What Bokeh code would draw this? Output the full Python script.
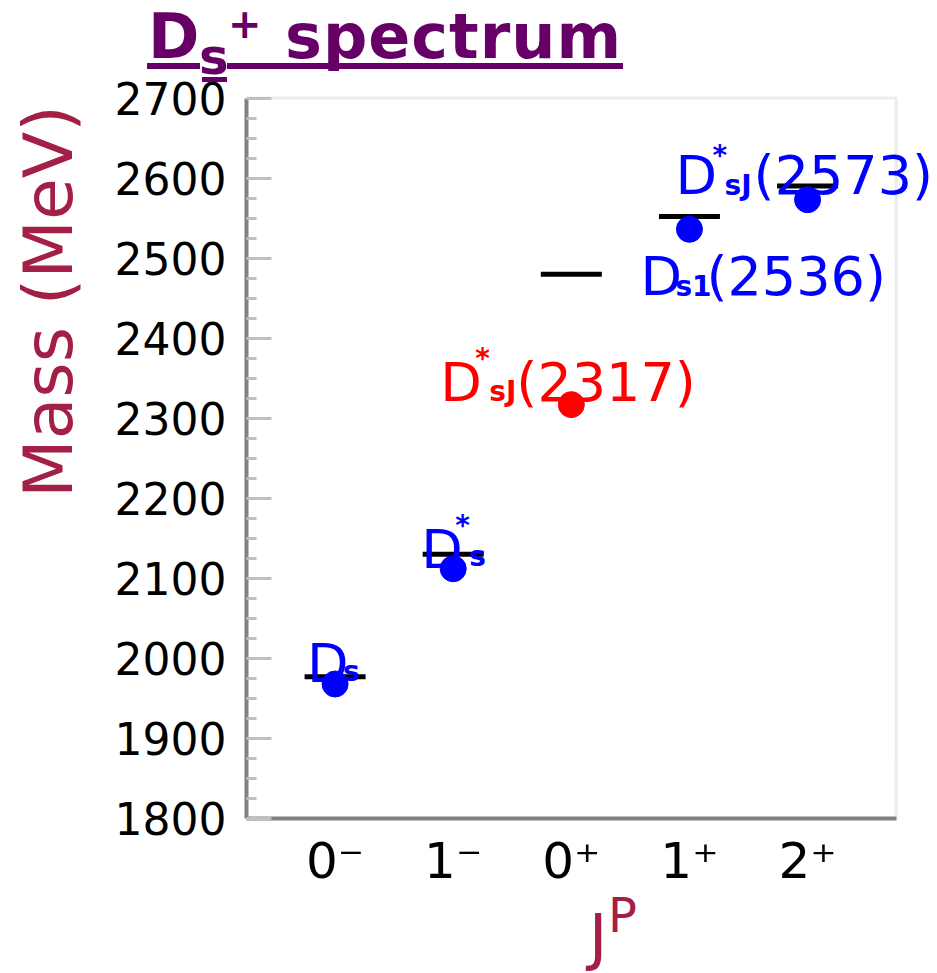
from bokeh.plotting import figure
from bokeh.models import Label, BoxAnnotation, Range1d, FixedTicker, Div
from bokeh.layouts import column
from bokeh.embed import file_html
from bokeh.resources import INLINE

# ---------------- data ----------------
jp_labels = ["0⁻", "1⁻", "0⁺", "1⁺", "2⁺"]
jp_index = [0, 1, 2, 3, 4]
theory_mass = [1977, 2130, 2480, 2552, 2590]          # black dashes (model)
exp_mass = [1968, 2112, 2317, 2536, 2573]             # measured states (dots)
exp_color = ["#0000ff", "#0000ff", "#ff0000", "#0000ff", "#0000ff"]
state_main = ["D", "D", "D", "D", "D"]
state_star = ["", "*", "*", "", "*"]
state_sub = ["s", "s", "sJ", "s1", "sJ"]
state_tail = ["", "", "(2317)", "(2536)", "(2573)"]
y_major = [1800, 1900, 2000, 2100, 2200, 2300, 2400, 2500, 2600, 2700]
y_minor = [v for v in range(1800, 2701, 25) if v % 100 != 0]
title_parts = ["D", "s", "+", "spectrum"]
y_title = "Mass (MeV)"
x_title_parts = ["J", "P"]

# ---------------- styles ----------------
FONT = "DejaVu Sans"
PURPLE = "#660066"
MAROON = "#a31f45"
X_LO, X_HI = -0.75, 4.75          # drawn box limits (category units)
Y_LO, Y_HI = 1800, 2700
X_VIEW_END = 5.10                 # room on the right for the (2573) label
Y_VIEW_END = 2709.4               # room so the top border is not clipped

LAYOUT = [
    dict(main=(-28, 21), star=None, sub=(8, 13), tail=None),
    dict(main=(-32, 19), star=(2, 43), sub=(16, 12), tail=None),
    dict(main=(-131, 22), star=(-96, 46), sub=(-82, 13), tail=(-55, 22)),
    dict(main=(-49, -47), star=None, sub=(-14, -57), tail=(17, -47)),
    dict(main=(-132, 24), star=(-95, 44), sub=(-83, 14), tail=(-54, 24)),
]

p = figure(width=937, height=973,
           x_range=Range1d(X_LO, X_VIEW_END), y_range=Range1d(Y_LO, Y_VIEW_END),
           output_backend="svg", toolbar_location=None,
           min_border_left=246, min_border_right=0,
           min_border_top=90, min_border_bottom=155)
p.xgrid.visible = False
p.ygrid.visible = False
p.background_fill_color = "white"
p.border_fill_color = "white"
p.outline_line_color = None

# plot box (top and right edges visible; left/bottom covered by the axes)
p.add_layout(BoxAnnotation(left=X_LO, right=X_HI, bottom=Y_LO, top=Y_HI,
                           fill_alpha=0, line_color="#c0c0c0", line_width=3,
                           level="underlay"))

# y axis
ya = p.yaxis[0]
ya.bounds = (Y_LO, Y_HI)
ya.ticker = FixedTicker(ticks=y_major, minor_ticks=y_minor)
ya.axis_line_color = "#808080"
ya.axis_line_width = 4
ya.major_tick_in = 25
ya.major_tick_out = 0
ya.minor_tick_in = 10
ya.minor_tick_out = 0
ya.major_tick_line_color = "#c0c0c0"
ya.minor_tick_line_color = "#c0c0c0"
ya.major_tick_line_width = 3
ya.minor_tick_line_width = 3
ya.major_label_text_font = FONT
ya.major_label_text_font_size = "44px"
ya.major_label_text_color = "black"
ya.major_label_standoff = 20

# x axis
xa = p.xaxis[0]
xa.bounds = (X_LO, X_HI)
xa.ticker = FixedTicker(ticks=jp_index, minor_ticks=[])
xa.major_label_overrides = {i: t for i, t in zip(jp_index, jp_labels)}
xa.axis_line_color = "#808080"
xa.axis_line_width = 4
xa.major_tick_in = 0
xa.major_tick_out = 0
xa.minor_tick_in = 0
xa.minor_tick_out = 0
xa.major_label_text_font = FONT
xa.major_label_text_font_size = "50px"
xa.major_label_text_color = "black"
xa.major_label_standoff = 13

# theory dashes and measured states
p.scatter(jp_index, theory_mass, marker="dash", size=61,
          line_color="black", line_width=5)
p.scatter(jp_index, exp_mass, marker="circle", size=26,
          fill_color=exp_color, line_color=exp_color)

# state labels
for i in range(len(jp_index)):
    lay = LAYOUT[i]
    col = exp_color[i]
    common = dict(x=jp_index[i], y=exp_mass[i], text_color=col,
                  text_align="left", text_baseline="alphabetic")
    p.add_layout(Label(text=state_main[i], x_offset=lay["main"][0], y_offset=lay["main"][1],
                       text_font=FONT, text_font_size="54px", **common))
    if state_star[i] and lay["star"]:
        p.add_layout(Label(text=state_star[i], x_offset=lay["star"][0], y_offset=lay["star"][1],
                           text_font=FONT, text_font_size="28px", text_font_style="bold", **common))
    p.add_layout(Label(text=state_sub[i], x_offset=lay["sub"][0], y_offset=lay["sub"][1],
                       text_font=FONT, text_font_size="28px", text_font_style="bold", **common))
    if state_tail[i] and lay["tail"]:
        p.add_layout(Label(text=state_tail[i], x_offset=lay["tail"][0], y_offset=lay["tail"][1],
                           text_font=FONT, text_font_size="54px", **common))

# overlay with the page title and the two axis titles (outside the plot frame)
def st(size, color, bold=False, extra=""):
    w = "bold" if bold else "normal"
    return (f"font-family:'{FONT}';font-size:{size}px;font-weight:{w};"
            f"font-style:normal;fill:{color};{extra}")

overlay = (
    '<svg xmlns="http://www.w3.org/2000/svg" width="937" height="973" '
    'style="display:block;pointer-events:none">'
    '<text>'
    f'<tspan x="148" y="58" style="{st(62, PURPLE, True)}">{title_parts[0]}</tspan>'
    f'<tspan x="199" y="74" style="{st(50, PURPLE, True)}">{title_parts[1]}</tspan>'
    f'<tspan x="228" y="38" style="{st(40, PURPLE, True)}">{title_parts[2]} </tspan>'
    f'<tspan x="285" y="58" style="{st(62, PURPLE, True, "letter-spacing:1px")}">{title_parts[3]}</tspan>'
    '</text>'
    f'<rect x="147" y="63" width="53" height="6" style="fill:{PURPLE}"/>'
    f'<rect x="227" y="63" width="396" height="6" style="fill:{PURPLE}"/>'
    f'<rect x="202" y="77" width="25" height="5" style="fill:{PURPLE}"/>'
    f'<text x="72" y="498" transform="rotate(-90 72 498)" style="{st(68, MAROON)}">{y_title}</text>'
    '<text>'
    f'<tspan x="589" y="958" style="{st(62, MAROON)}">{x_title_parts[0]}</tspan>'
    f'<tspan x="608" y="932" style="{st(48, MAROON)}">{x_title_parts[1]}</tspan>'
    '</text>'
    '</svg>'
)
overlay_div = Div(text=overlay, width=937, height=973, margin=(-973, 0, 0, 0))

layout = column(p, overlay_div, spacing=0)
open("out.html", "w").write(file_html(layout, INLINE))
